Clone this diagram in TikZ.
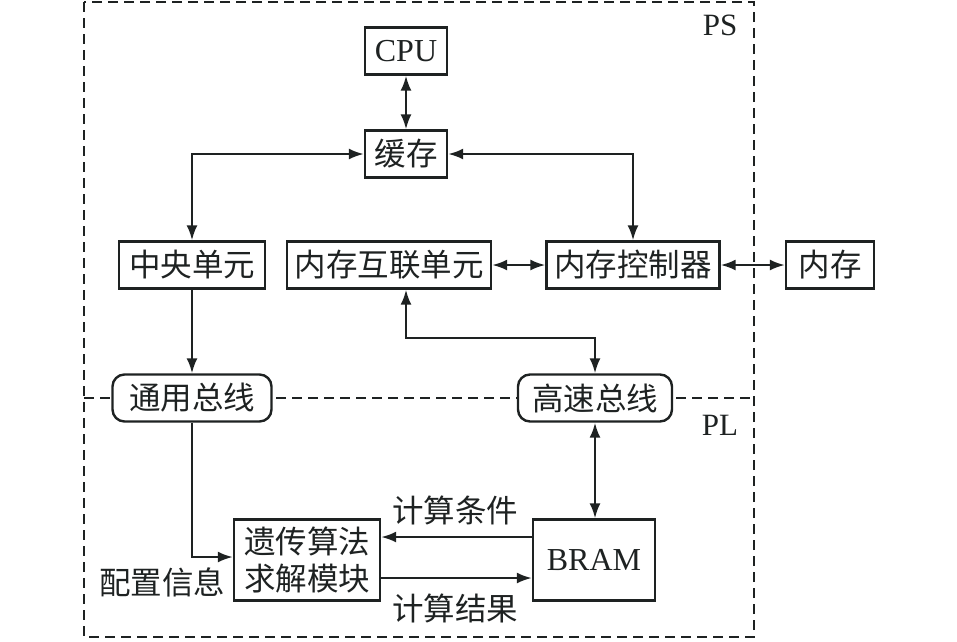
\documentclass[tikz,border=0pt]{standalone}
\usepackage{fontspec}
\setmainfont{Liberation Serif}
\newfontfamily\cjk{Noto Sans CJK SC}
\usetikzlibrary{arrows.meta,calc}
\definecolor{lc}{RGB}{30,34,34}
\tikzset{
  box/.style={draw=lc,line width=2.4pt,fill=white,inner sep=0pt,minimum height=47pt,text=lc,font=\cjk\fontsize{31.5}{34}\selectfont},
  bus/.style={box,rounded corners=12pt},
  lbl/.style={text=lc,inner sep=0pt,font=\cjk\fontsize{31.5}{34}\selectfont},
  con/.style={draw=lc,line width=2.2pt,arrows={-Latex[length=15pt,width=11pt]}},
  bi/.style={draw=lc,line width=2.2pt,arrows={Latex[length=15pt,width=11pt]-Latex[length=15pt,width=11pt]}},
  frame/.style={draw=lc,line width=2.4pt,dash pattern=on 10pt off 6pt}
}
\begin{document}
\begin{tikzpicture}[x=1pt,y=-1pt]
\useasboundingbox (0,0) rectangle (957,641);
% frame
\draw[frame] (84,2) rectangle (754,637);
\draw[frame] (84,398) -- (754,398);
\node[text=lc,inner sep=0pt,font=\fontsize{31}{34}\selectfont] (ps) at (720,25) {PS};
\node[text=lc,inner sep=0pt,font=\fontsize{31}{34}\selectfont] (pl) at (720,425) {PL};
% nodes
\node[box,minimum width=82pt,font=\fontsize{32}{36}\selectfont] (cpu) at (406,51) {CPU};
\node[box,minimum width=82pt] (hc) at (406,154) {缓存};
\node[box,minimum width=146pt] (zy) at (192,265) {中央单元};
\node[box,minimum width=204pt] (hl) at (389,265) {内存互联单元};
\node[box,minimum width=173pt] (mc) at (633,265) {内存控制器};
\node[box,minimum width=88pt] (nc) at (830,265) {内存};
\node[bus,minimum width=159pt] (tb) at (192,398) {通用总线};
\node[bus,minimum width=154pt] (gs) at (595,398) {高速总线};
\node[box,minimum width=146pt,minimum height=81pt,align=center,font=\cjk\fontsize{31.5}{37}\selectfont] (yc) at (307,560) {遗传算法\\求解模块};
\node[box,minimum width=122pt,minimum height=81pt,font=\fontsize{32}{36}\selectfont] (bram) at (594,560) {BRAM};
% labels
\node[lbl] (tj) at (455,510) {计算条件};
\node[lbl] (jg) at (455,608) {计算结果};
\node[lbl] (pz) at (162,582) {配置信息};
% connectors
\coordinate (mid) at (500,338);
\draw[bi] (cpu) -- (hc);
\draw[bi] (hc.west) -| (zy.north);
\draw[bi] (hc.east) -| (mc.north);
\draw[bi] (hl) -- (mc);
\draw[bi] (mc) -- (nc);
\draw[con] (zy) -- (tb);
\draw[bi] (hl.south -| hc) |- (mid) -| (gs.north);
\draw[bi] (gs) -- (gs |- bram.north);
\draw[con] (tb.south) |- ($(yc.west)+(0,-3)$);
\draw[con] ($(bram.west)+(0,-23)$) -- ($(yc.east)+(0,-23)$);
\draw[con] ($(yc.east)+(0,18)$) -- ($(bram.west)+(0,18)$);
\end{tikzpicture}
\end{document}
